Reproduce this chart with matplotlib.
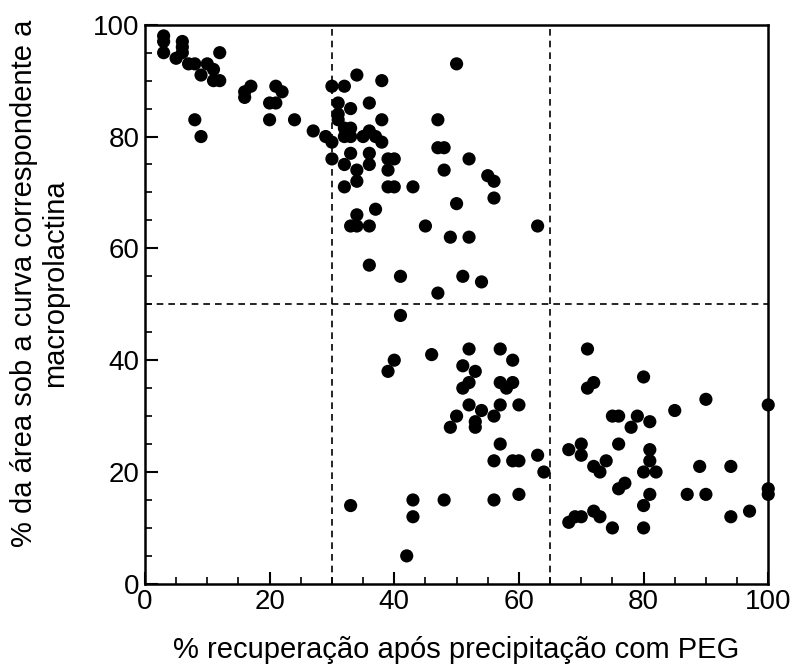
import matplotlib.pyplot as plt
from matplotlib.ticker import MultipleLocator

plt.rcParams['font.family'] = ['Liberation Sans', 'DejaVu Sans']

# % recovery after PEG precipitation (x) vs % area under macroprolactin curve (y)
recuperacao = [
    3, 3, 3, 6, 6, 6, 7, 5, 8, 8, 9, 9, 10, 11, 11, 12, 12,
    16, 16, 17, 20, 20, 21, 21, 22, 24, 27, 29, 30, 30, 30,
    32, 31, 31, 31, 33, 34, 32, 33, 32, 33, 35, 36, 36, 37, 38, 38, 38,
    33, 32, 36, 36, 34, 34, 32, 39, 40, 39, 39, 40, 37, 34, 33, 34, 36,
    36, 41, 43,
    47, 47, 48, 48, 50, 52, 45, 49, 52, 50, 55, 56, 56, 51, 54, 47, 63,
    41, 40, 39, 46, 51, 52, 53, 51, 52, 52, 54, 53, 53, 50, 49,
    57, 59, 57, 58, 59, 57, 60, 56, 57, 56, 59, 60, 63, 64, 56, 60,
    48, 43, 43, 33, 42,
    71, 71, 72, 80, 90, 85, 100, 75, 76, 79, 78, 81, 68, 70, 70, 72, 73,
    74, 76, 81, 81, 80, 82, 89, 94, 76, 77, 81, 80, 87, 90, 100, 100,
    68, 69, 70, 72, 73, 75, 80, 94, 97,
]
area_macro = [
    98, 97, 95, 97, 96, 95, 93, 94, 93, 83, 80, 91, 93, 92, 90, 90, 95,
    88, 87, 89, 86, 83, 86, 89, 88, 83, 81, 80, 79, 76, 89,
    89, 86, 84, 83, 85, 91, 81.5, 81.5, 80, 80, 80, 86, 81, 80, 83, 90, 79,
    77, 75, 77, 75, 74, 72, 71, 76, 76, 74, 71, 71, 67, 66, 64, 64, 64,
    57, 55, 71,
    83, 78, 78, 74, 93, 76, 64, 62, 62, 68, 73, 72, 69, 55, 54, 52, 64,
    48, 40, 38, 41, 39, 42, 38, 35, 36, 32, 31, 29, 28, 30, 28,
    42, 40, 36, 35, 36, 32, 32, 30, 25, 22, 22, 22, 23, 20, 15, 16,
    15, 15, 12, 14, 5,
    42, 35, 36, 37, 33, 31, 32, 30, 30, 30, 28, 29, 24, 25, 23, 21, 20,
    22, 25, 24, 22, 20, 20, 21, 21, 17, 18, 16, 14, 16, 16, 17, 16,
    11, 12, 12, 13, 12, 10, 10, 12, 13,
]
limites_x = [30, 65]
limite_y = 50

fig = plt.figure(figsize=(7.92, 6.68), dpi=100)
ax = fig.add_axes([0.183, 0.126, 0.787, 0.837])

# Scatter of all patients
ax.scatter(recuperacao, area_macro, s=90, c='black', edgecolors='none', zorder=3, clip_on=False)

# Cut-off lines
for xv in limites_x:
    ax.axvline(xv, color='black', linestyle=(0, (4, 3)), linewidth=1.2)
ax.axhline(limite_y, color='black', linestyle=(0, (4, 3)), linewidth=1.2)

ax.set_xlim(0, 100)
ax.set_ylim(0, 100)
ax.xaxis.set_major_locator(MultipleLocator(20))
ax.xaxis.set_minor_locator(MultipleLocator(5))
ax.yaxis.set_major_locator(MultipleLocator(20))
ax.yaxis.set_minor_locator(MultipleLocator(5))
ax.tick_params(which='major', direction='in', length=9, width=1.5, labelsize=20, pad=4)
ax.tick_params(which='minor', direction='in', length=5, width=1.2)
for sp in ax.spines.values():
    sp.set_linewidth(1.8)

ax.set_xlabel('% recuperação após precipitação com PEG', fontsize=21, labelpad=15)
ax.set_ylabel('% da área sob a curva correspondente a\nmacroprolactina', fontsize=21,
              linespacing=1.15)
ax.yaxis.set_label_coords(-0.122, 0.537)

fig.savefig('out.png', dpi=100)
